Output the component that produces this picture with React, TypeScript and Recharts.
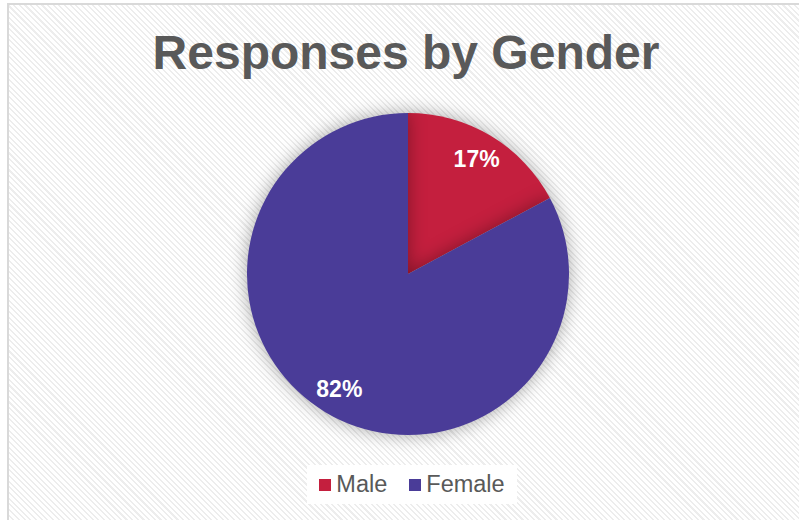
import React from 'react';
import { PieChart, Pie, Cell, Legend } from 'recharts';

// Survey split shown in the reference
const genders = ['Male', 'Female'];
const shares = [17, 82];
const sliceColors = ['#C41F3E', '#4A3C98'];

const data = genders.map((name, i) => ({ name, value: shares[i] }));

const RADIAN = Math.PI / 180;

const renderLabel = (props: any) => {
  const { cx, cy, midAngle, outerRadius, index } = props;
  const r = outerRadius * 0.83;
  const x = cx + r * Math.cos(-midAngle * RADIAN);
  const y = cy + r * Math.sin(-midAngle * RADIAN);
  return (
    <text
      x={x}
      y={y}
      fill="#FFFFFF"
      textAnchor="middle"
      dominantBaseline="central"
      fontFamily="'Liberation Sans', Arial, sans-serif"
      fontWeight="bold"
      fontSize={23}
    >
      {`${shares[index]}%`}
    </text>
  );
};

const renderLegend = () => (
  <div
    style={{
      display: 'inline-flex',
      alignItems: 'center',
      gap: 22,
      background: '#FFFFFF',
      padding: '6px 12px',
      fontFamily: "'Liberation Sans', Arial, sans-serif",
      fontSize: 23.5,
      color: '#595959'
    }}
  >
    {genders.map((g, i) => (
      <span key={g} style={{ display: 'inline-flex', alignItems: 'center', gap: 5 }}>
        <span style={{ width: 12, height: 12, background: sliceColors[i], display: 'inline-block' }} />
        {g}
      </span>
    ))}
  </div>
);

export default function App() {
  return (
    <div
      style={{
        position: 'absolute',
        left: 7,
        top: 3,
        width: 800,
        height: 530,
        boxSizing: 'border-box',
        border: '2px solid #D9D9D9',
        background:
          'repeating-linear-gradient(45deg, #FFFFFF 0px, #FFFFFF 2.5px, #EDEDED 2.5px, #EDEDED 4px)',
        overflow: 'hidden'
      }}
    >
      <div
        style={{
          position: 'absolute',
          left: -4,
          top: 20,
          width: 802,
          textAlign: 'center',
          fontFamily: "'Liberation Sans', Arial, sans-serif",
          fontWeight: 'bold',
          fontSize: 48,
          color: '#595959'
        }}
      >
        Responses by Gender
      </div>
      <PieChart width={800} height={526}>
        <Pie
          data={data}
          dataKey="value"
          nameKey="name"
          cx={394}
          cy={264}
          outerRadius={161}
          startAngle={90}
          endAngle={-270}
          stroke="none"
          label={renderLabel}
          labelLine={false}
          isAnimationActive={false}
          style={{ filter: 'drop-shadow(0px 0px 9px rgba(0,0,0,0.35))' }}
        >
          {data.map((d, i) => (
            <Cell key={d.name} fill={sliceColors[i]} />
          ))}
        </Pie>
        <Legend
          content={renderLegend}
          wrapperStyle={{ position: 'absolute', left: 3, top: 460, width: 800, textAlign: 'center' }}
        />
      </PieChart>
    </div>
  );
}
